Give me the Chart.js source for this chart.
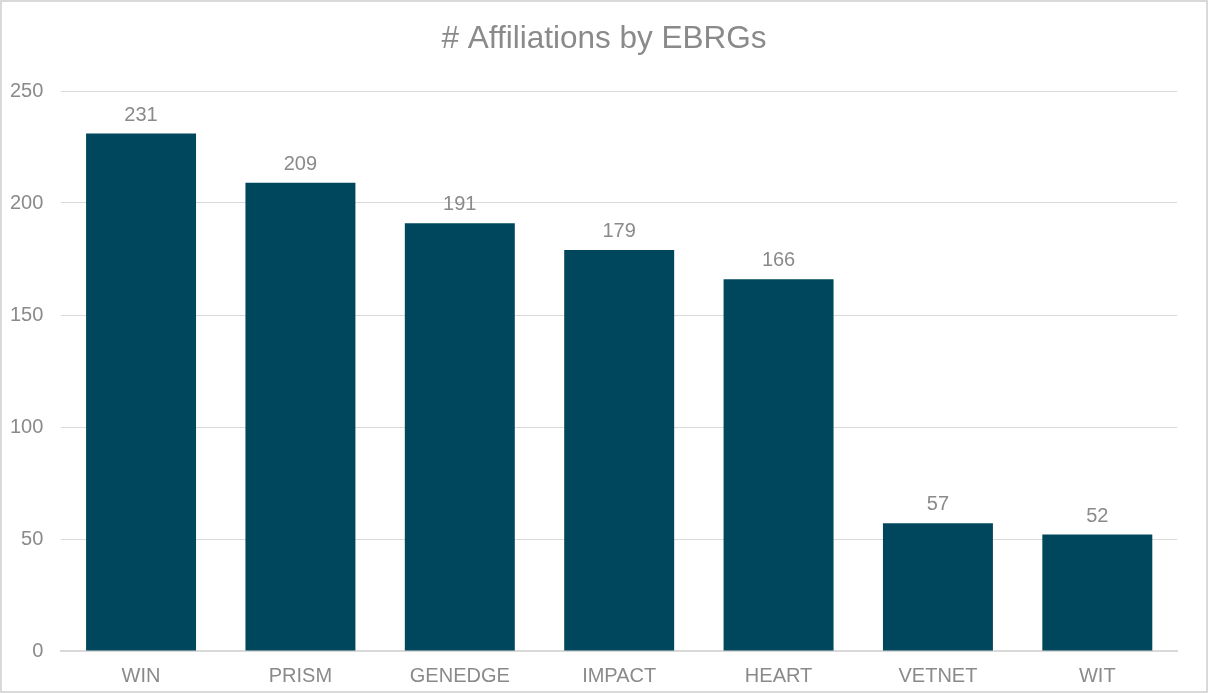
<!DOCTYPE html>
<html><head><meta charset="utf-8">
<script src="https://cdn.jsdelivr.net/npm/chart.js@4"></script>
<style>
html,body{margin:0;padding:0;background:#fff;}
canvas{display:block;}
</style></head>
<body><canvas id="c" width="1208" height="693"></canvas>
<script>
const categories = ["WIN","PRISM","GENEDGE","IMPACT","HEART","VETNET","WIT"];
const affiliations = [231,209,191,179,166,57,52];
const yTicks = [0,50,100,150,200,250];
const chartTitle = "# Affiliations by EBRGs";

const FONT = '"Liberation Sans", Arial, sans-serif';

const framePlugin = {
  id:'frame',
  beforeDraw(chart){
    const ctx = chart.ctx;
    ctx.save();
    ctx.fillStyle='#ffffff';
    ctx.fillRect(0,0,chart.width,chart.height);
    ctx.strokeStyle='#d9d9d9';
    ctx.lineWidth=2;
    ctx.strokeRect(1,1,chart.width-2,chart.height-2);
    ctx.fillStyle='#8a8a8a';
    ctx.font='31.5px ' + FONT;
    ctx.textAlign='center';
    ctx.textBaseline='alphabetic';
    ctx.fillText(chartTitle, chart.width/2, 48);
    ctx.restore();
  }
};

const labelPlugin = {
  id:'valueLabels',
  afterDatasetsDraw(chart){
    const ctx = chart.ctx;
    const meta = chart.getDatasetMeta(0);
    ctx.save();
    ctx.font = '20px ' + FONT;
    ctx.fillStyle = '#8a8a8a';
    ctx.textAlign = 'center';
    ctx.textBaseline = 'alphabetic';
    meta.data.forEach((bar,i)=>{
      ctx.fillText(String(affiliations[i]), bar.x, bar.y - 13);
    });
    ctx.restore();
  }
};

new Chart(document.getElementById('c'),{
  type:'bar',
  data:{labels:categories,datasets:[{data:affiliations,backgroundColor:'#00475d',barPercentage:0.69,categoryPercentage:1.0}]},
  options:{
    responsive:false,animation:false,
    layout:{padding:{left:-8,right:31,top:91,bottom:-8}},
    plugins:{legend:{display:false},tooltip:{enabled:false},title:{display:false}},
    scales:{
      x:{grid:{display:false,drawTicks:false},border:{display:true,color:'#d9d9d9',width:2},
         ticks:{color:'#8a8a8a',padding:13,font:{family:FONT,size:20}}},
      y:{min:0,max:250,afterBuildTicks:(ax)=>{ax.ticks=yTicks.map(v=>({value:v}));},
         grid:{color:'#d9d9d9',lineWidth:1,drawTicks:false},border:{display:false},
         ticks:{color:'#8a8a8a',padding:18,font:{family:FONT,size:20}}}
    }
  },
  plugins:[framePlugin,labelPlugin]
});
</script></body></html>
